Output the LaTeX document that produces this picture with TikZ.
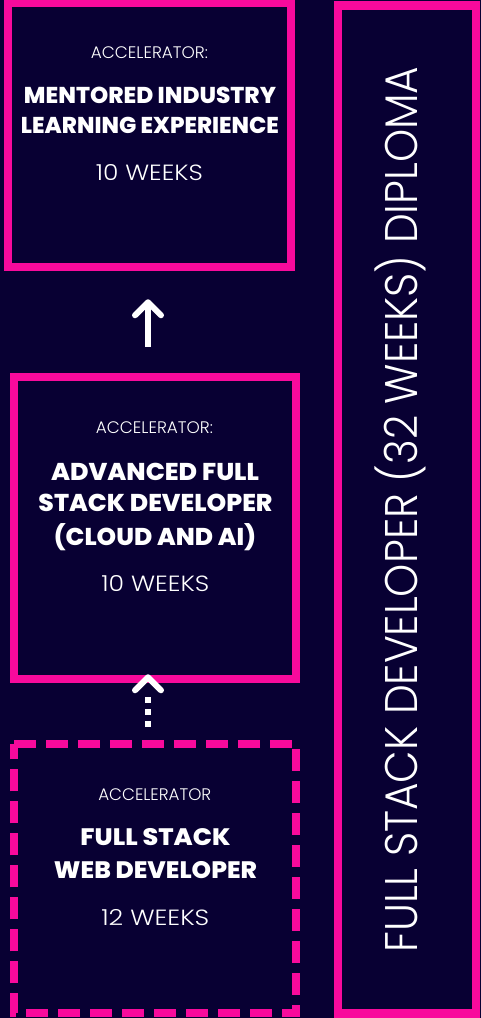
\documentclass[tikz,border=0pt]{standalone}
\usepackage{fontspec}
\usepackage{graphicx}
\usetikzlibrary{arrows.meta,calc}
\IfFontExistsTF{Poppins Light}{\newfontfamily\lightf{Poppins Light}}{\newfontfamily\lightf{Poppins}}
\IfFontExistsTF{Poppins ExtraBold}{\newfontfamily\boldf{Poppins ExtraBold}}{\newfontfamily\boldf{Poppins Bold}}
\definecolor{bgnavy}{HTML}{080033}
\definecolor{hotpink}{HTML}{F80A9C}
% #1 size, #2 width, #3 text
\newcommand\txtL[3]{{\lightf\fontsize{#1pt}{#1pt}\selectfont\resizebox{#2pt}{\height}{#3}}}
\newcommand\txtB[3]{{\boldf\fontsize{#1pt}{#1pt}\selectfont\resizebox{#2pt}{\height}{#3}}}
\begin{document}
\begin{tikzpicture}[x=1pt,y=-1pt,
  pbox/.style={draw=hotpink, line width=8.5pt, inner sep=0pt, line join=miter},
  hidbox/.style={inner sep=0pt},
  dashbox/.style={draw=hotpink, line width=8.5pt, dash pattern=on 22pt off 10pt},
  txt/.style={inner sep=0pt, text=white, anchor=base},
  arr/.style={draw=white, line width=6pt, -{Straight Barb[length=13pt, width=26pt, round]}},
  dotarr/.style={draw=white, line width=6pt, dash pattern=on 6pt off 6pt on 6pt off 6pt on 6pt off 60pt, -{Straight Barb[length=13pt, width=26pt, round]}}]
\fill[bgnavy] (0,0) rectangle (481,1018);
\useasboundingbox (0,0) rectangle (481,1018);
\coordinate (ax) at (148,0);
% boxes
\node[pbox, minimum width=283pt, minimum height=264pt] (b1) at (149.5,135) {};
\node[pbox, minimum width=282pt, minimum height=302pt] (b2) at (155,528) {};
\node[hidbox, minimum width=282pt, minimum height=269pt] (b3) at (155,878.5) {};
\draw[dashbox] (b3.north west) -- (b3.north east) -- (b3.south east) -- (b3.south west) -- cycle;
\node[pbox, minimum width=138pt, minimum height=1008pt] (b4) at (407,509.5) {};
% box 1 texts
\node[txt] (t1a) at (149.5,58.3) {\txtL{16.7}{117}{ACCELERATOR:}};
\node[txt] (t1b) at (150,103.3) {\txtB{22.9}{252}{MENTORED INDUSTRY}};
\node[txt] (t1c) at (150,133.3) {\txtB{22.9}{258}{LEARNING EXPERIENCE}};
\node[txt] (t1d) at (149.3,180) {\txtL{22}{107}{10 WEEKS}};
% box 2 texts
\node[txt] (t2a) at (154.5,433.3) {\txtL{16.7}{117}{ACCELERATOR:}};
\node[txt] (t2b) at (155,480) {\txtB{24.3}{208}{ADVANCED FULL}};
\node[txt] (t2c) at (155.5,511.7) {\txtB{24.3}{234}{STACK DEVELOPER}};
\node[txt] (t2d) at (155,545) {\txtB{24.3}{202}{(CLOUD AND AI)}};
\node[txt] (t2e) at (155.3,591.7) {\txtL{22}{108}{10 WEEKS}};
% box 3 texts
\node[txt] (t3a) at (154.8,800) {\txtL{16.7}{113}{ACCELERATOR}};
\node[txt] (t3b) at (155.5,845) {\txtB{23.8}{150}{FULL STACK}};
\node[txt] (t3c) at (155.5,878.3) {\txtB{23.8}{203}{WEB DEVELOPER}};
\node[txt] (t3d) at (155.3,925) {\txtL{22}{108}{12 WEEKS}};
% diploma text
\node[txt, rotate=90] (dip) at (417,509.5) {\txtL{45.7}{886}{FULL STACK DEVELOPER (32 WEEKS) DIPLOMA}};
% arrows
\draw[arr] ($(b2.north -| ax)+(0,-26)$) -- ($(b1.south -| ax)+(0,28)$);
\draw[dotarr] ($(b3.north -| ax)+(0,-17)$) -- ($(b2.south -| ax)+(0,-9)$);
\end{tikzpicture}
\end{document}
